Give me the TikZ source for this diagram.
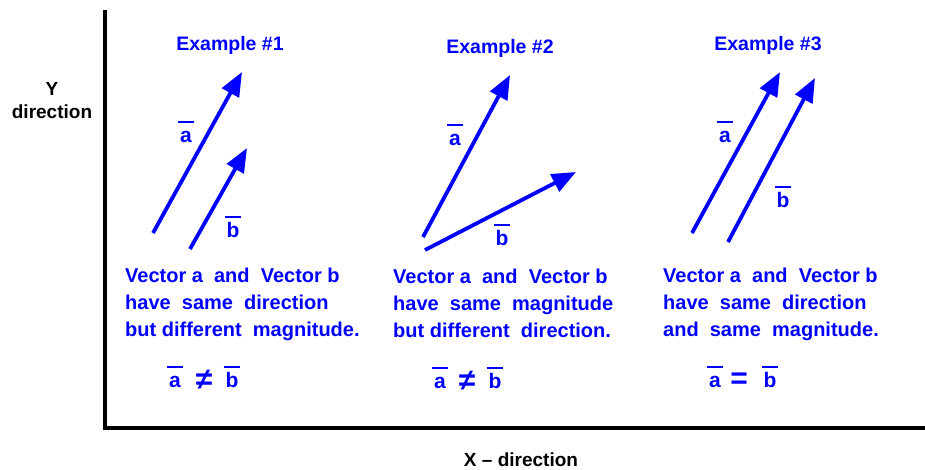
\documentclass[tikz,border=0pt]{standalone}
\usepackage{fontspec}
\setmainfont{Liberation Sans}
\usetikzlibrary{arrows.meta}
\definecolor{vblue}{RGB}{0,0,255}
\newcommand{\ovl}[1]{\vbox{\hrule height 2pt\kern 3.5pt\hbox{\kern2pt\vphantom{b}#1\kern2pt}}}
\tikzset{vec/.style={draw=vblue, line width=3.8pt,
  -{Triangle[length=24pt, width=19pt]}},
  axisline/.style={draw=black, line width=4pt},
  axlbl/.style={font=\fontsize{19}{23}\selectfont\bfseries},
  title/.style={text=vblue, font=\fontsize{19.5}{22}\selectfont\bfseries},
  desc/.style={text=vblue, align=left, anchor=north west,
  font=\fontsize{20}{27}\selectfont\bfseries},
  vlbl/.style={text=vblue, anchor=base, font=\fontsize{21}{22}\selectfont\bfseries},
  eqsym/.style={text=vblue, anchor=base, font=\fontsize{30}{30}\selectfont\bfseries}}

\begin{document}
\begin{tikzpicture}[x=1pt, y=-1pt, every node/.style={inner sep=0pt}]
  \useasboundingbox (0,0) rectangle (925,469);
  % axes
  \coordinate (ytop) at (105,10);
  \coordinate (org) at (105,428);
  \coordinate (xend) at (925,428);
  \draw[axisline] (ytop) -- (org) -- (xend);
  \node[axlbl, align=center] (ylbl) at (52,101) {Y\\direction};
  \node[axlbl] (xlbl) at (521,460) {X -- direction};

  % example 1
  \node[title] (ttl1) at (230,45) {Example \#1};
  \coordinate (a1s) at (153,233);
  \coordinate (a1e) at (242,72);
  \coordinate (b1s) at (190,249);
  \coordinate (b1e) at (247,148);
  \draw[vec] (a1s) -- (a1e);
  \draw[vec] (b1s) -- (b1e);
  \node[vlbl] (la1) at (186,142) {\ovl{a}};
  \node[vlbl] (lb1) at (233,237) {\ovl{b}};
  \node[desc] (txt1) at (125,268) {Vector a\ \ and\ \ Vector b\\have\ \ same\ \ direction\\but different\ \ magnitude.};
  \node[vlbl] (ea1) at (175,387) {\ovl{a}};
  \node[eqsym] (ne1) at (204,389) {≠};
  \node[vlbl] (eb1) at (232,387) {\ovl{b}};

  % example 2
  \node[title] (ttl2) at (500,48) {Example \#2};
  \coordinate (a2s) at (423,237);
  \coordinate (a2e) at (510,75);
  \coordinate (b2s) at (425,250);
  \coordinate (b2e) at (576,172);
  \draw[vec] (a2s) -- (a2e);
  \draw[vec] (b2s) -- (b2e);
  \node[vlbl] (la2) at (455,145) {\ovl{a}};
  \node[vlbl] (lb2) at (502,245) {\ovl{b}};
  \node[desc] (txt2) at (393,269) {Vector a\ \ and\ \ Vector b\\have\ \ same\ \ magnitude\\but different\ \ direction.};
  \node[vlbl] (ea2) at (440,388) {\ovl{a}};
  \node[eqsym] (ne2) at (467,390) {≠};
  \node[vlbl] (eb2) at (495,388) {\ovl{b}};

  % example 3
  \node[title] (ttl3) at (768,45) {Example \#3};
  \coordinate (a3s) at (692,233);
  \coordinate (a3e) at (780,72);
  \coordinate (b3s) at (728,242);
  \coordinate (b3e) at (815,78);
  \draw[vec] (a3s) -- (a3e);
  \draw[vec] (b3s) -- (b3e);
  \node[vlbl] (la3) at (725,142) {\ovl{a}};
  \node[vlbl] (lb3) at (783,207) {\ovl{b}};
  \node[desc] (txt3) at (663,268) {Vector a\ \ and\ \ Vector b\\have\ \ same\ \ direction\\and\ \ same\ \ magnitude.};
  \node[vlbl] (ea3) at (715,387) {\ovl{a}};
  \node[eqsym] (eq3) at (739,388) {=};
  \node[vlbl] (eb3) at (770,387) {\ovl{b}};
\end{tikzpicture}
\end{document}
